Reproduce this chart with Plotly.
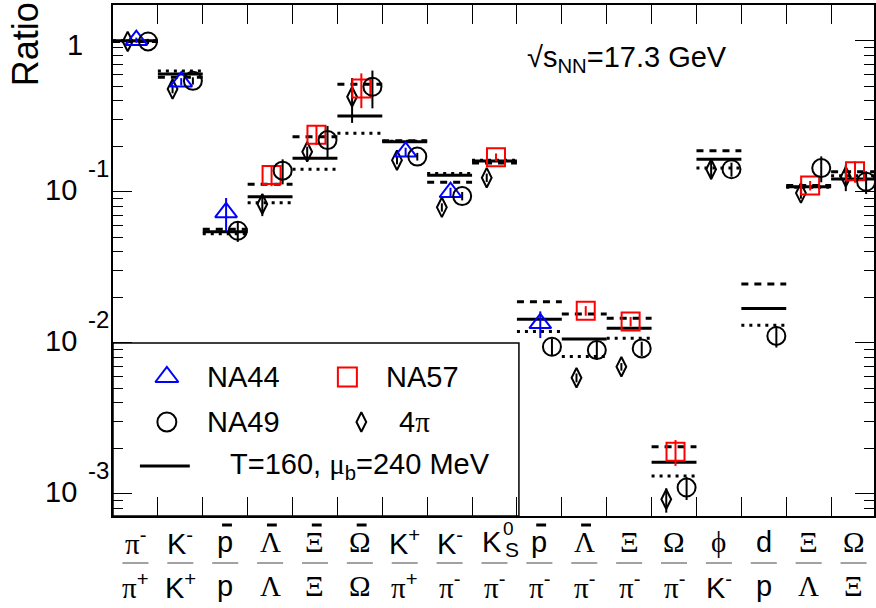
import math
import plotly.graph_objects as go

# ---------------- data ----------------
categories = list(range(17))
num_labels = ["π-", "K-", "p̄", "Λ̄", "Ξ̄", "Ω̄", "K+", "K-", "K0S", "p̄", "Λ̄", "Ξ", "Ω", "ϕ", "d", "Ξ", "Ω"]
den_labels = ["π+", "K+", "p", "Λ", "Ξ", "Ω", "π+", "π-", "π-", "π-", "π-", "π-", "π-", "K-", "p", "Λ", "Ξ"]

model_solid = [1.0, 0.603, 0.0544, 0.0927, 0.1665, 0.318, 0.2145, 0.1285, 0.1598, 0.0143, 0.01059, 0.01247, 0.00162, 0.164, 0.0169, 0.108, 0.1215]
model_dashed = [0.99, 0.573, 0.0564, 0.112, 0.2316, 0.515, 0.218, 0.1155, 0.155, 0.0187, 0.0155, 0.01452, 0.00205, 0.187, 0.0245, 0.110, 0.1358]
model_dotted = [1.0, 0.630, 0.0527, 0.0846, 0.141, 0.244, 0.216, 0.1324, 0.162, 0.0119, 0.0081, 0.0107, 0.00131, 0.144, 0.01305, 0.107, 0.1276]

na44_cat = [0, 1, 2, 6, 7, 9]
na44_val = [1.01, 0.536, 0.073, 0.184, 0.0993, 0.01345]
na44_err = [0.04, 0.03, 0.018, 0.012, 0.007, 0.0027]

na57_cat = [3, 4, 5, 8, 10, 11, 12, 15, 16]
na57_val = [0.129, 0.239, 0.483, 0.1694, 0.0163, 0.01383, 0.0019, 0.110, 0.1368]
na57_err = [0.02, 0.035, 0.125, 0.01, 0.0012, 0.001, 0.00037, 0.008, 0.022]

na49_cat = [0, 1, 2, 3, 4, 5, 6, 7, 9, 10, 11, 12, 13, 14, 15, 16]
na49_val = [0.99, 0.543, 0.0552, 0.138, 0.220, 0.496, 0.171, 0.0937, 0.00942, 0.00895, 0.00918, 0.00110, 0.141, 0.0111, 0.1436, 0.1166]
na49_err = [0.04, 0.03, 0.0086, 0.026, 0.053, 0.139, 0.01, 0.006, 0.0012, 0.0012, 0.001, 0.00019, 0.015, 0.0018, 0.028, 0.02]

pi4_cat = [0, 1, 3, 4, 5, 6, 7, 8, 10, 11, 12, 13, 15, 16]
pi4_val = [0.99, 0.479, 0.083, 0.184, 0.426, 0.162, 0.0789, 0.124, 0.00587, 0.00694, 0.00092, 0.141, 0.098, 0.126]
pi4_err = [0.03, 0.03, 0.014, 0.015, 0.14, 0.01, 0.005, 0.008, 0.0004, 0.0004, 0.00017, 0.02, 0.008, 0.025]

ytick_vals = [1, 0.1, 0.01, 0.001]
ytick_exp = ["", "-1", "-2", "-3"]

# ---------------- layout helpers ----------------
W, H = 876, 608
ML, MR, MT, MB = 113, 0, 5, 92
PW, PH = W - ML - MR, H - MT - MB
CATW = 45.0
XR = [-0.5, -0.5 + PW / CATW]
YR = [-3.147, 0.237]
FONT = "Liberation Sans, Arial, Helvetica, sans-serif"
SERIF = "Liberation Serif"


def px2py(py):
    return (MT + PH - py) / PH


def px2px(px):
    return (px - ML) / PW


def cat2p(c):
    return (c - XR[0]) / (XR[1] - XR[0])


def greek(s):
    return '<span style="font-family:%s">%s</span>' % (SERIF, s)


def fmt(lbl):
    base = lbl.replace("̄", "")
    sup = ""
    if base.endswith("+") or base.endswith("-"):
        sup = base[-1]
        base = base[:-1]
    if base in ("π", "Λ", "Ξ", "Ω", "ϕ"):
        base = greek(base)
    return base + ("<sup>%s</sup>" % sup if sup else "")


fig = go.Figure()


def model_trace(vals, dash, name):
    xs, ys = [], []
    for c, v in zip(categories, vals):
        xs += [c - 0.5, c + 0.5, None]
        ys += [v, v, None]
    fig.add_trace(go.Scatter(x=xs, y=ys, mode="lines", name=name,
                             line=dict(color="black", width=3, dash=dash),
                             showlegend=False, hoverinfo="skip"))


model_trace(model_dashed, "7px,6px", "dashed")
model_trace(model_dotted, "3px,5px", "dotted")
model_trace(model_solid, "solid", "T=160, mu_b=240 MeV")


def data_trace(cats, vals, errs, off, symbol, color, size, name):
    fig.add_trace(go.Scatter(
        x=[c + off for c in cats], y=vals, mode="markers", name=name,
        marker=dict(symbol=symbol, size=size, color=color,
                    line=dict(color=color, width=2)),
        error_y=dict(type="data", array=errs, color=color, thickness=2, width=0),
        showlegend=False, cliponaxis=False))


data_trace(pi4_cat, pi4_val, pi4_err, -0.173, "diamond-tall-open", "black", 14, "4pi")
data_trace(na44_cat, na44_val, na44_err, 0.02, "triangle-up-open", "#0000ff", 19, "NA44")
data_trace(na57_cat, na57_val, na57_err, 0.033, "square-open", "#ff0000", 18, "NA57")
data_trace(na49_cat, na49_val, na49_err, 0.28, "circle-open", "black", 18, "NA49")

# ---------------- legend (manual, ROOT-style box) ----------------
leg_sym = [("triangle-up-open", "#0000ff", 20, 167, 377),
           ("square-open", "#ff0000", 19, 348, 377),
           ("circle-open", "black", 19, 167, 422),
           ("diamond-tall-open", "black", 14, 362, 422)]
for sym, col, sz, lx, ly in leg_sym:
    fig.add_trace(go.Scatter(x=[px2px(lx)], y=[px2py(ly)], xaxis="x2", yaxis="y2",
                             mode="markers", showlegend=False, hoverinfo="skip",
                             marker=dict(symbol=sym, size=sz, color=col, line=dict(color=col, width=2))))
fig.add_trace(go.Scatter(x=[px2px(140), px2px(190)], y=[px2py(466), px2py(466)],
                         xaxis="x2", yaxis="y2", mode="lines", showlegend=False,
                         hoverinfo="skip", line=dict(color="black", width=3)))

shapes = []
shapes.append(dict(type="rect", xref="paper", yref="paper", x0=0, x1=px2px(520),
                   y0=0, y1=px2py(343), fillcolor="white",
                   line=dict(color="black", width=1.5), layer="below"))

annotations = []


def ann(text, x, y, xref="paper", yref="paper", size=29, xanchor="center",
        yanchor="middle", xshift=0, yshift=0, textangle=0):
    annotations.append(dict(text=text, x=x, y=y, xref=xref, yref=yref, showarrow=False,
                            font=dict(family=FONT, size=size, color="black"),
                            xanchor=xanchor, yanchor=yanchor, xshift=xshift,
                            yshift=yshift, textangle=textangle))


ann("NA44", px2px(205), px2py(377), xanchor="left")
ann("NA57", px2px(385), px2py(377), xanchor="left")
ann("NA49", px2px(205), px2py(422), xanchor="left")
ann("4" + greek("π"), px2px(398), px2py(422), xanchor="left")
ann("T=160, " + greek("μ") + "<sub>b</sub>=240 MeV", px2px(228), px2py(466), xanchor="left")

ann("√s<sub>NN</sub>=17.3 GeV", px2px(526), px2py(59), xanchor="left")
ann("Ratio", px2px(25), px2py(44), size=36, textangle=-90)

# y tick labels (ROOT style 10^-n)
for v, e in zip(ytick_vals, ytick_exp):
    lv = math.log10(v)
    if e == "":
        ann("1", px2px(85), lv, yref="y", xanchor="right", yshift=-4)
    else:
        ann("10", px2px(79), lv, yref="y", xanchor="right", yshift=2)
        ann(e, px2px(86), lv, yref="y", xanchor="left", size=24, yshift=23)

# x category labels as fractions
NUM_Y = px2py(542)
DEN_Y = px2py(586)
for c, nl, dl in zip(categories, num_labels, den_labels):
    if nl == "K0S":
        ann("K", c, NUM_Y, xref="x", xshift=-3)
        ann("0", c, NUM_Y, xref="x", size=19, xshift=14, yshift=13)
        ann("S", c, NUM_Y, xref="x", size=21, xshift=17, yshift=-8)
    else:
        ann(fmt(nl), c, NUM_Y, xref="x")
    ann(fmt(dl), c, DEN_Y, xref="x")
    if "̄" in nl:
        shapes.append(dict(type="line", xref="paper", yref="paper",
                           x0=cat2p(c - 0.07), x1=cat2p(c + 0.15),
                           y0=px2py(525), y1=px2py(525),
                           line=dict(color="black", width=3)))
    shapes.append(dict(type="line", xref="paper", yref="paper",
                       x0=cat2p(c - 0.29), x1=cat2p(c + 0.29),
                       y0=px2py(563), y1=px2py(563),
                       line=dict(color="#444444", width=1)))

minor_vals = []
for d in range(-4, 1):
    for m in range(2, 10):
        minor_vals.append(m * 10 ** d)

fig.update_layout(
    width=W, height=H,
    margin=dict(l=ML, r=MR, t=MT, b=MB, pad=0),
    paper_bgcolor="white", plot_bgcolor="white",
    font=dict(family=FONT, size=29, color="black"),
    showlegend=False,
    xaxis=dict(range=XR, showgrid=False, zeroline=False, showline=True, linecolor="black",
               linewidth=1.5, mirror="ticks", ticks="inside", ticklen=19, tickwidth=1,
               tickcolor="black", tickmode="array",
               tickvals=[c + 0.5 for c in categories[:-1]], showticklabels=False),
    yaxis=dict(type="log", range=YR, showgrid=False, zeroline=False, showline=True,
               linecolor="black", linewidth=1.5, mirror="ticks", ticks="inside",
               ticklen=19, tickwidth=1, tickcolor="black", tickmode="array",
               tickvals=ytick_vals, showticklabels=False,
               minor=dict(ticks="inside", ticklen=10, tickwidth=1, tickcolor="black",
                          tickmode="array", tickvals=minor_vals, showgrid=False)),
    xaxis2=dict(range=[0, 1], overlaying="x", anchor="y2", visible=False, fixedrange=True),
    yaxis2=dict(range=[0, 1], overlaying="y", anchor="x2", visible=False, fixedrange=True),
    shapes=shapes,
    annotations=annotations,
)

fig.write_html("out.html", config={"displayModeBar": False},
               post_script="document.body.style.margin='0';")
